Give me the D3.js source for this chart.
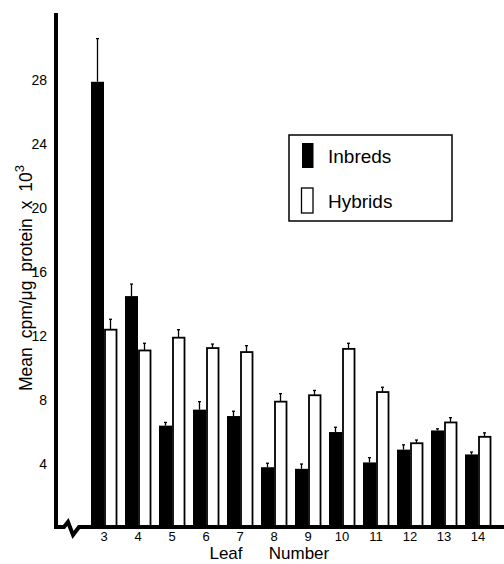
<!DOCTYPE html>
<html>
<head>
<meta charset="utf-8">
<script src="https://cdn.jsdelivr.net/npm/d3@7"></script>
<style>
  body { margin: 0; background: #fff; }
  svg { display: block; font-family: "Liberation Sans", Arial, Helvetica, sans-serif; }
</style>
</head>
<body>
<svg id="chart"></svg>
<script>
// values
const leaves = [3, 4, 5, 6, 7, 8, 9, 10, 11, 12, 13, 14]
const inbreds = [27.9, 14.5, 6.4, 7.4, 7.0, 3.8, 3.7, 6.0, 4.1, 4.9, 6.1, 4.6]
const inbredErr = [2.7, 0.75, 0.2, 0.5, 0.3, 0.25, 0.3, 0.3, 0.3, 0.3, 0.1, 0.15]
const hybrids = [12.4, 11.1, 11.9, 11.25, 11.0, 7.9, 8.3, 11.2, 8.5, 5.3, 6.6, 5.7]
const hybridErr = [0.65, 0.45, 0.5, 0.25, 0.4, 0.5, 0.3, 0.35, 0.3, 0.2, 0.3, 0.25]
const yTicks = [4, 8, 12, 16, 20, 24, 28]
const seriesNames = ['Inbreds', 'Hybrids']

let width = 504
let height = 564

let svg = d3.select('#chart').attr('width', width).attr('height', height)

let y = d3.scaleLinear().domain([0, 32.2]).range([528, 13])

let x = d3.scaleBand()
    .domain(leaves)
    .range([87, 495])
    .paddingInner(0.235)
    .paddingOuter(0.1175)

let xs = d3.scaleBand().domain(seriesNames).range([0, x.bandwidth()])

let fills = {Inbreds: '#000', Hybrids: '#fff'}

// table built from the arrays
let rows = []
leaves.forEach((leaf, i) => {
    rows.push({leaf: leaf, series: 'Inbreds', value: inbreds[i], err: inbredErr[i]})
    rows.push({leaf: leaf, series: 'Hybrids', value: hybrids[i], err: hybridErr[i]})
})

// bars
let bars = svg.append('g').attr('class', 'bars')
bars.selectAll('rect')
    .data(rows)
    .enter().append('rect')
    .attr('x', d => x(d.leaf) + xs(d.series) + (d.series === 'Hybrids' ? 1 : 0))
    .attr('y', d => y(d.value))
    .attr('width', d => xs.bandwidth() - (d.series === 'Hybrids' ? 1.5 : 0))
    .attr('height', d => y(0) - y(d.value))
    .attr('fill', d => fills[d.series])
    .attr('stroke', '#000')
    .attr('stroke-width', d => d.series === 'Hybrids' ? 1.8 : 0)

// error bars
let errs = svg.append('g').attr('class', 'errors').attr('stroke', '#000')
errs.selectAll('line.v')
    .data(rows)
    .enter().append('line')
    .attr('class', 'v')
    .attr('x1', d => x(d.leaf) + xs(d.series) + xs.bandwidth() / 2)
    .attr('x2', d => x(d.leaf) + xs(d.series) + xs.bandwidth() / 2)
    .attr('y1', d => y(d.value))
    .attr('y2', d => y(d.value + d.err))
    .attr('stroke-width', 1.3)
errs.selectAll('line.cap')
    .data(rows)
    .enter().append('line')
    .attr('class', 'cap')
    .attr('x1', d => x(d.leaf) + xs(d.series) + xs.bandwidth() / 2 - 1.5)
    .attr('x2', d => x(d.leaf) + xs(d.series) + xs.bandwidth() / 2 + 1.5)
    .attr('y1', d => y(d.value + d.err))
    .attr('y2', d => y(d.value + d.err))
    .attr('stroke-width', 1.3)

// y axis, labels only; the thick line is drawn by hand
let yAxis = svg.append('g')
    .attr('transform', 'translate(56,0)')
    .call(d3.axisLeft(y).tickValues(yTicks).tickSize(0).tickPadding(9))
yAxis.select('.domain').remove()
yAxis.selectAll('text').attr('font-size', 14).attr('font-family', null).attr('fill', '#000')

svg.append('line')
    .attr('x1', 56).attr('x2', 56)
    .attr('y1', y.range()[1]).attr('y2', 529)
    .attr('stroke', '#000').attr('stroke-width', 4)

// x axis
let xAxis = svg.append('g')
    .attr('transform', 'translate(0,' + 527 + ')')
    .call(d3.axisBottom(x).tickSize(0).tickPadding(5))
xAxis.select('.domain').remove()
xAxis.selectAll('text').attr('font-size', 13).attr('font-family', null).attr('fill', '#000')

// baseline with the break near the origin
svg.append('path')
    .attr('d', 'M56,527 L64,527 L68,522 L73,535 L79,527 L504,527')
    .attr('fill', 'none')
    .attr('stroke', '#000')
    .attr('stroke-width', 4)
    .attr('stroke-linejoin', 'miter')

// axis titles
svg.append('text')
    .attr('x', 226).attr('y', 559)
    .attr('text-anchor', 'middle')
    .attr('font-size', 17)
    .text('Leaf')
svg.append('text')
    .attr('x', 299).attr('y', 559)
    .attr('text-anchor', 'middle')
    .attr('font-size', 17)
    .text('Number')

let yTitle = svg.append('text')
    .attr('transform', 'translate(32,278) rotate(-90)')
    .attr('text-anchor', 'middle')
    .attr('font-size', 17.5)
    .attr('word-spacing', 4)
yTitle.append('tspan').text('Mean cpm/\u03bcg protein x 10')
yTitle.append('tspan').attr('dy', -8).attr('font-size', 13).text('3')

// legend
let legend = svg.append('g').attr('class', 'legend')
legend.append('rect')
    .attr('x', 289).attr('y', 135)
    .attr('width', 163).attr('height', 86)
    .attr('fill', 'none').attr('stroke', '#000').attr('stroke-width', 1.5)

let items = legend.selectAll('g.item')
    .data(seriesNames)
    .enter().append('g')
    .attr('class', 'item')
    .attr('transform', (d, i) => 'translate(301,' + (143 + i * 45) + ')')
items.append('rect')
    .attr('x', d => d === 'Hybrids' ? 0.5 : 1)
    .attr('y', 0)
    .attr('width', 11.5)
    .attr('height', 25)
    .attr('fill', d => fills[d])
    .attr('stroke', '#000')
    .attr('stroke-width', d => d === 'Hybrids' ? 1.3 : 0)
items.append('text')
    .attr('x', 27)
    .attr('y', 13)
    .attr('dy', '0.35em')
    .attr('font-size', 19)
    .text(d => d)
</script>
</body>
</html>
